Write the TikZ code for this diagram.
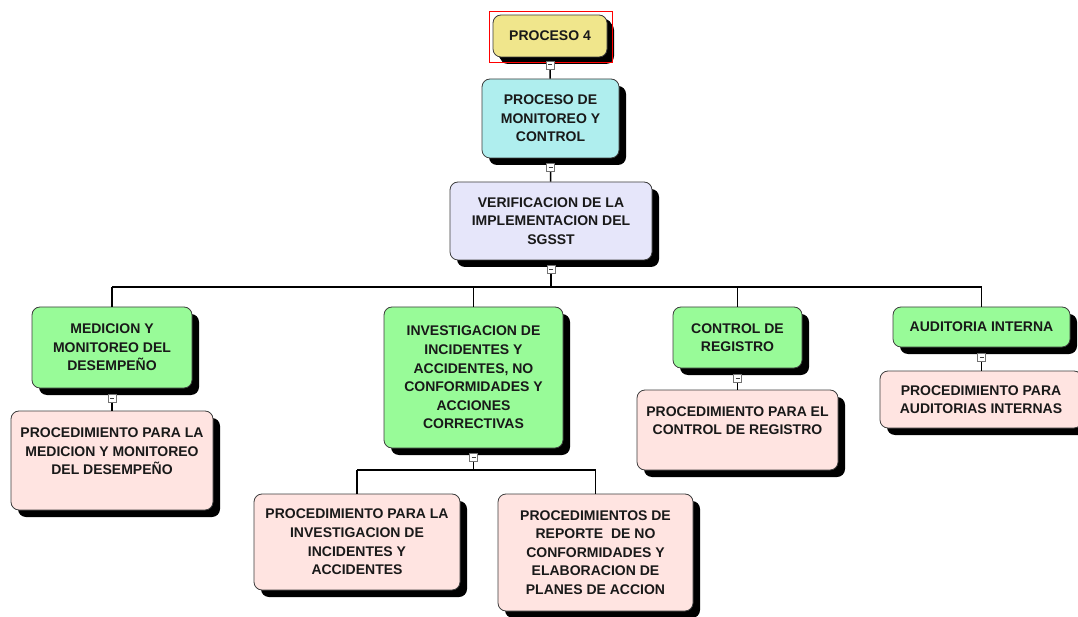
\documentclass[tikz,border=0pt]{standalone}
\usepackage{fontspec}
\setmainfont{Liberation Sans}
\usetikzlibrary{shadows}
\definecolor{khakifill}{RGB}{240,230,140}
\definecolor{turqfill}{RGB}{175,238,238}
\definecolor{lavfill}{RGB}{230,230,250}
\definecolor{greenfill}{RGB}{152,251,152}
\definecolor{rosefill}{RGB}{255,228,225}
\definecolor{edge}{RGB}{60,60,60}
\begin{document}
\begin{tikzpicture}[x=1pt,y=-1pt,
  box/.style={draw=edge, line width=0.8pt, rounded corners=8pt, align=center,
    font=\fontsize{14}{18.6}\selectfont\bfseries, text=black!90, inner sep=0pt,
    drop shadow={shadow xshift=7pt, shadow yshift=-7pt, fill=black, opacity=1}},
  rootbox/.style={box, fill=khakifill,
    drop shadow={shadow xshift=5pt, shadow yshift=-4pt, fill=black, opacity=1}},
  procbox/.style={box, fill=turqfill},
  verbox/.style={box, fill=lavfill},
  actbox/.style={box, fill=greenfill},
  docbox/.style={box, fill=rosefill},
  marker/.style={draw=black!55, fill=white, line width=0.6pt, minimum size=8pt, inner sep=0pt,
    path picture={\draw[black!75, line width=1pt]
      ([xshift=2pt]path picture bounding box.west) -- ([xshift=-2pt]path picture bounding box.east);}},
  link/.style={line width=1.4pt, black}
]
\useasboundingbox (0,0) rectangle (1078,617);

% boxes
\node[rootbox, minimum width=114pt, minimum height=42pt] (p4) at (550,36) {PROCESO 4};
\draw[red, line width=0.8pt] (489,11) rectangle (612,62);
\node[procbox, minimum width=137pt, minimum height=79pt] (mon) at (550.5,118.5) {PROCESO DE\\MONITOREO Y\\CONTROL};
\node[verbox, minimum width=202pt, minimum height=78pt] (ver) at (551,221) {VERIFICACION DE LA\\IMPLEMENTACION DEL\\SGSST};

\node[actbox, minimum width=160pt, minimum height=81pt] (med) at (112,347.5) {MEDICION Y\\MONITOREO DEL\\DESEMPEÑO};
\node[docbox, minimum width=202pt, minimum height=99pt] (pmed) at (112,460.5) {PROCEDIMIENTO PARA LA\\MEDICION Y MONITOREO\\DEL DESEMPEÑO\\~};

\node[actbox, minimum width=179pt, minimum height=141pt] (inv) at (473.5,377.5) {INVESTIGACION DE\\INCIDENTES Y\\ACCIDENTES, NO\\CONFORMIDADES Y\\ACCIONES\\CORRECTIVAS};
\node[docbox, minimum width=206pt, minimum height=96pt] (pinv) at (357,542) {PROCEDIMIENTO PARA LA\\INVESTIGACION DE\\INCIDENTES Y\\ACCIDENTES};
\node[docbox, minimum width=195pt, minimum height=117pt] (prep) at (595.5,552.5) {PROCEDIMIENTOS DE\\REPORTE~ DE NO\\CONFORMIDADES Y\\ELABORACION DE\\PLANES DE ACCION};

\node[actbox, minimum width=129pt, minimum height=61pt] (ctl) at (737.5,337.5) {CONTROL DE\\REGISTRO};
\node[docbox, minimum width=201pt, minimum height=80pt] (pctl) at (737.5,430) {PROCEDIMIENTO PARA EL\\CONTROL DE REGISTRO\\~};

\node[actbox, minimum width=177pt, minimum height=40pt] (aud) at (981.5,327) {AUDITORIA INTERNA};
\node[docbox, minimum width=202pt, minimum height=57pt] (paud) at (981,399.5) {PROCEDIMIENTO PARA\\AUDITORIAS INTERNAS};

% collapse markers under each parent
\node[marker] (mk0) at ([yshift=-7.5pt]p4.south) {};
\node[marker] (mk1) at ([yshift=-9pt]mon.south) {};
\node[marker] (mk2) at ([yshift=-9pt]ver.south) {};
\node[marker] (mk3) at ([yshift=-10pt]med.south) {};
\node[marker] (mk4) at ([yshift=-9pt]inv.south) {};
\node[marker] (mk5) at ([yshift=-10pt]ctl.south) {};
\node[marker] (mk6) at ([yshift=-10pt]aud.south) {};

% bus lines of the branches
\coordinate (bus) at (0,287);
\coordinate (bus2) at (0,470);

% connectors
\draw[link] (mk0) -- (mon);
\draw[link] (mk1) -- (ver);
\draw[link] (mk2) -- (mk2 |- bus);
\draw[link] (med.north |- bus) -- (aud.north |- bus);
\foreach \c in {med,inv,ctl,aud} \draw[link] (\c.north |- bus) -- (\c.north);
\draw[link] (mk3) -- (pmed);
\draw[link] (mk4) -- (mk4 |- bus2);
\draw[link] (pinv.north |- bus2) -- (prep.north |- bus2);
\foreach \c in {pinv,prep} \draw[link] (\c.north |- bus2) -- (\c.north);
\draw[link] (mk5) -- (ctl.south |- pctl.north);
\draw[link] (mk6) -- (aud.south |- paud.north);

% redraw markers over the connector ends
\foreach \m in {mk0,mk1,mk2,mk3,mk4,mk5,mk6} \node[marker] at (\m) {};
\end{tikzpicture}
\end{document}
